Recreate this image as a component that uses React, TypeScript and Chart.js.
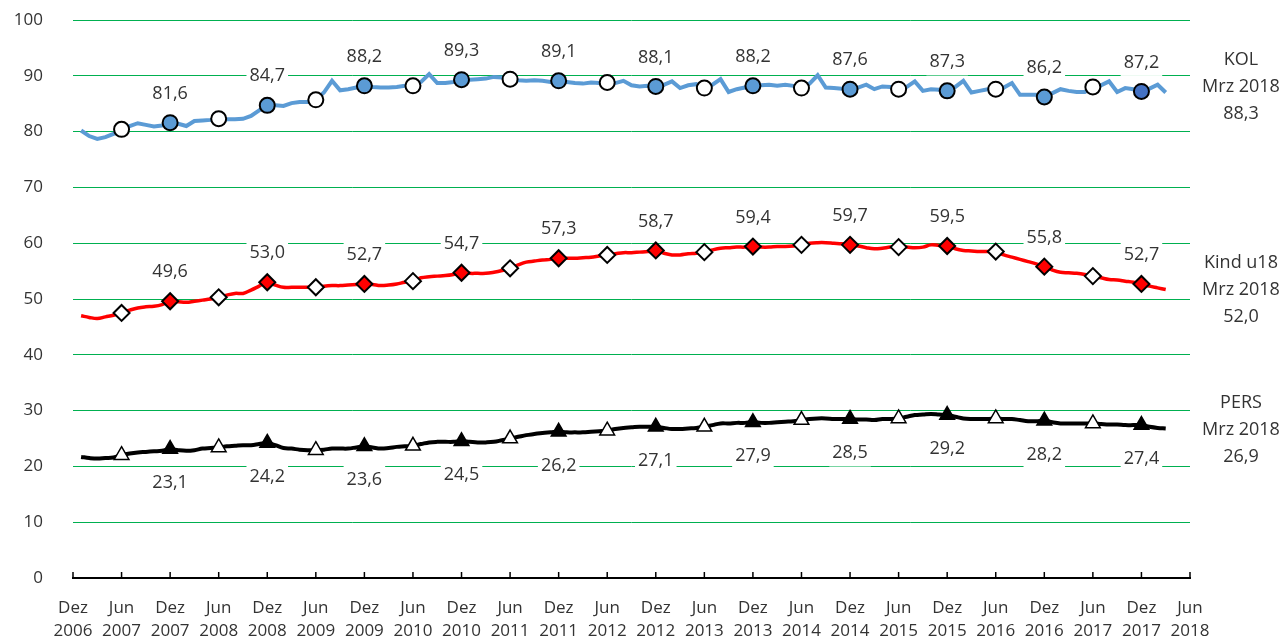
import React, { useEffect, useRef } from "react";
import { Chart, registerables } from "chart.js";

Chart.register(...registerables);

// Months counted from Dez 2006 (0). Series run from Jan 2007 (1) to Mrz 2018 (135).
const firstMonth = 1;

const kolValues = [
  80.2, 79.2, 78.7, 79.0, 79.6, 80.4, 81.0, 81.5, 81.2, 80.9, 81.1, 81.6,
  81.4, 81.0, 81.9, 82.0, 82.1, 82.3, 82.2, 82.2, 82.3, 82.8, 83.8, 84.7,
  84.7, 84.6, 85.1, 85.3, 85.3, 85.7, 87.0, 89.1, 87.4, 87.6, 87.9, 88.2,
  88.0, 87.9, 87.9, 88.0, 88.2, 88.2, 88.9, 90.3, 88.7, 88.7, 88.9, 89.3,
  89.3, 89.4, 89.5, 89.8, 89.7, 89.4, 89.2, 89.1, 89.2, 89.1, 88.9, 89.1,
  88.9, 88.7, 88.6, 88.8, 88.7, 88.8, 88.7, 89.1, 88.3, 88.1, 88.2, 88.1,
  88.4, 89.0, 87.8, 88.3, 88.5, 87.8, 88.4, 89.4, 87.1, 87.6, 87.9, 88.2,
  88.3, 88.4, 88.2, 88.4, 88.2, 87.8, 88.6, 90.1, 87.9, 87.8, 87.7, 87.6,
  87.9, 88.4, 87.6, 88.1, 88.0, 87.6, 88.0, 89.0, 87.3, 87.6, 87.5, 87.3,
  88.0, 89.1, 87.0, 87.3, 87.6, 87.6, 87.9, 88.7, 86.6, 86.6, 86.6, 86.2,
  86.9, 87.6, 87.3, 87.1, 87.1, 88.0, 88.3, 89.0, 87.1, 87.8, 87.6, 87.2,
  87.7, 88.4, 87.0,
];

const kindValues = [
  47.0, 46.7, 46.5, 46.8, 47.1, 47.5, 48.0, 48.4, 48.6, 48.7, 49.0, 49.6,
  49.5, 49.4, 49.6, 49.8, 50.0, 50.3, 50.7, 51.0, 51.0, 51.6, 52.3, 53.0,
  52.5, 52.1, 52.1, 52.1, 52.1, 52.1, 52.3, 52.4, 52.4, 52.5, 52.6, 52.7,
  52.6, 52.4, 52.5, 52.7, 53.0, 53.2, 53.8, 54.0, 54.1, 54.2, 54.4, 54.7,
  54.6, 54.6, 54.6, 54.8, 55.1, 55.5, 56.1, 56.6, 56.8, 57.0, 57.1, 57.3,
  57.3, 57.3, 57.4, 57.5, 57.7, 57.9, 58.1, 58.3, 58.3, 58.4, 58.5, 58.7,
  58.2, 57.9, 57.9, 58.1, 58.2, 58.4, 58.8, 59.1, 59.2, 59.3, 59.3, 59.4,
  59.3, 59.3, 59.4, 59.4, 59.5, 59.7, 60.0, 60.1, 60.1, 60.0, 59.9, 59.7,
  59.5, 59.2, 59.0, 59.1, 59.3, 59.3, 59.3, 59.2, 59.3, 59.7, 59.6, 59.5,
  59.0, 58.7, 58.6, 58.5, 58.5, 58.5, 57.9, 57.5, 57.1, 56.7, 56.3, 55.8,
  55.2, 54.8, 54.7, 54.6, 54.4, 54.1, 53.8, 53.5, 53.4, 53.2, 53.0, 52.7,
  52.3, 52.0, 51.7,
];

const persValues = [
  21.7, 21.5, 21.4, 21.5, 21.6, 22.0, 22.3, 22.5, 22.6, 22.7, 22.8, 23.1,
  22.9, 22.8, 22.9, 23.2, 23.3, 23.4, 23.6, 23.7, 23.8, 23.8, 24.0, 24.2,
  23.8, 23.3, 23.2, 23.0, 22.9, 22.9, 23.0, 23.2, 23.2, 23.2, 23.4, 23.6,
  23.4, 23.2, 23.3, 23.5, 23.6, 23.7, 24.0, 24.3, 24.4, 24.4, 24.4, 24.5,
  24.4, 24.3, 24.3, 24.4, 24.7, 25.0, 25.3, 25.6, 25.8, 26.0, 26.1, 26.2,
  26.1, 26.1, 26.1, 26.2, 26.3, 26.4, 26.7, 26.9, 27.0, 27.1, 27.1, 27.1,
  26.9, 26.7, 26.7, 26.8, 26.9, 27.1, 27.4, 27.7, 27.7, 27.8, 27.8, 27.9,
  27.8, 27.8, 27.9, 28.0, 28.1, 28.3, 28.5, 28.6, 28.6, 28.5, 28.5, 28.5,
  28.4, 28.4, 28.3, 28.5, 28.5, 28.6, 28.9, 29.2, 29.3, 29.4, 29.3, 29.2,
  28.9, 28.6, 28.5, 28.5, 28.5, 28.6, 28.5, 28.5, 28.3, 28.1, 28.1, 28.2,
  27.9, 27.7, 27.7, 27.7, 27.7, 27.7, 27.6, 27.5, 27.5, 27.4, 27.4, 27.4,
  27.1, 26.9, 26.8,
];

const xTickLabels = [
  ["Dez", "2006"], ["Jun", "2007"], ["Dez", "2007"], ["Jun", "2008"],
  ["Dez", "2008"], ["Jun", "2009"], ["Dez", "2009"], ["Jun", "2010"],
  ["Dez", "2010"], ["Jun", "2011"], ["Dez", "2011"], ["Jun", "2012"],
  ["Dez", "2012"], ["Jun", "2013"], ["Dez", "2013"], ["Jun", "2014"],
  ["Dez", "2014"], ["Jun", "2015"], ["Dez", "2015"], ["Jun", "2016"],
  ["Dez", "2016"], ["Jun", "2017"], ["Dez", "2017"], ["Jun", "2018"],
];

const seriesNames = ["KOL", "Kind u18", "PERS"];
const endPeriod = "Mrz 2018";
const endValues = [88.3, 52.0, 26.9];

const FONT = '"Open Sans", "Noto Sans", sans-serif';
const TEXT = "#333333";
const FS = 18;

const fmt = (v: number) => v.toFixed(1).replace(".", ",");
const toPoints = (vals: number[]) =>
  vals.map((v, i) => ({ x: firstMonth + i, y: v }));

const isMarker = (ctx: any) => ctx.raw && ctx.raw.x % 6 === 0;
const isDez = (ctx: any) => ctx.raw && ctx.raw.x % 12 === 0;

const labelPlugin = {
  id: "dezLabels",
  afterDatasetsDraw(chart: any) {
    const ctx = chart.ctx;
    ctx.save();
    ctx.font = `${FS}px ${FONT}`;
    ctx.textAlign = "center";
    ctx.textBaseline = "middle";
    chart.data.datasets.forEach((ds: any, di: number) => {
      const meta = chart.getDatasetMeta(di);
      ds.data.forEach((pt: any, i: number) => {
        if (pt.x % 12 !== 0) return;
        const el = meta.data[i];
        const txt = fmt(pt.y);
        const y = el.y + ds.labelOffset;
        const w = ctx.measureText(txt).width + 6;
        ctx.fillStyle = "#ffffff";
        ctx.fillRect(el.x - w / 2, y - 14.5, w, 29);
        ctx.fillStyle = TEXT;
        ctx.fillText(txt, el.x, y + 1);
      });
    });
    ctx.restore();
  },
  afterDraw(chart: any) {
    const ctx = chart.ctx;
    const xs = chart.scales.x;
    const ys = chart.scales.y;
    const area = chart.chartArea;
    ctx.save();
    // inside tick marks on the category axis
    ctx.strokeStyle = "#000";
    ctx.lineWidth = 1.5;
    xs.ticks.forEach((t: any) => {
      const x = xs.getPixelForValue(t.value);
      ctx.beginPath();
      ctx.moveTo(x, area.bottom);
      ctx.lineTo(x, area.bottom - 6);
      ctx.stroke();
    });
    // end-of-series captions on the right
    ctx.font = `${FS}px ${FONT}`;
    ctx.fillStyle = TEXT;
    ctx.textAlign = "center";
    ctx.textBaseline = "middle";
    const cx = area.right + 51;
    seriesNames.forEach((name, i) => {
      const ym = ys.getPixelForValue(endValues[i]) + 2;
      ctx.fillText(name, cx, ym - 27);
      ctx.fillText(endPeriod, cx, ym);
      ctx.fillText(fmt(endValues[i]), cx, ym + 27);
    });
    ctx.restore();
  },
};

export default function App() {
  const ref = useRef<HTMLCanvasElement | null>(null);

  useEffect(() => {
    if (!ref.current) return;
    const chart = new Chart(ref.current, {
      type: "line",
      data: {
        datasets: [
          {
            label: "KOL",
            data: toPoints(kolValues),
            borderColor: "#5B9BD5",
            borderWidth: 4,
            tension: 0,
            pointStyle: "circle",
            pointRadius: (c: any) => (isMarker(c) ? 7.5 : 0),
            pointBorderWidth: 2,
            pointBorderColor: "#000",
            pointBackgroundColor: (c: any) =>
              isDez(c) ? (c.raw.x === 132 ? "#4472C4" : "#5B9BD5") : "#ffffff",
            labelOffset: -30,
          } as any,
          {
            label: "Kind u18",
            data: toPoints(kindValues),
            borderColor: "#FF0000",
            borderWidth: 3.5,
            tension: 0.4,
            pointStyle: "rectRot",
            pointRadius: (c: any) => (isMarker(c) ? 8 : 0),
            pointBorderWidth: 2,
            pointBorderColor: "#000",
            pointBackgroundColor: (c: any) => (isDez(c) ? "#FF0000" : "#ffffff"),
            labelOffset: -30,
          } as any,
          {
            label: "PERS",
            data: toPoints(persValues),
            borderColor: "#000000",
            borderWidth: 4,
            tension: 0.4,
            pointStyle: "triangle",
            pointRadius: (c: any) => (isMarker(c) ? 8.5 : 0),
            pointBorderWidth: 1.5,
            pointBorderColor: "#000",
            pointBackgroundColor: (c: any) => (isDez(c) ? "#000000" : "#ffffff"),
            labelOffset: 33,
          } as any,
        ],
      },
      options: {
        responsive: false,
        animation: false,
        events: [],
        devicePixelRatio: 1,
        layout: { autoPadding: false, padding: { top: 20, right: 95, left: 0, bottom: 0 } },
        plugins: {
          legend: { display: false },
          tooltip: { enabled: false },
        },
        scales: {
          x: {
            type: "linear",
            min: 0,
            max: 138,
            grid: { display: false, drawTicks: false },
            border: { display: true, color: "#000", width: 2 },
            afterFit: (s: any) => {
              s.height = 62;
              s.paddingLeft = 0;
              s.paddingRight = 0;
            },
            ticks: {
              stepSize: 6,
              autoSkip: false,
              maxRotation: 0,
              padding: 19,
              color: TEXT,
              font: { family: FONT, size: 17, lineHeight: 1.35 },
              callback: (v: any) => xTickLabels[Math.round(Number(v) / 6)],
            },
          },
          y: {
            min: 0,
            max: 100,
            grid: {
              color: (c: any) => (c.tick && c.tick.value === 0 ? "rgba(0,0,0,0)" : "#00B050"),
              lineWidth: 1,
              drawTicks: false,
            },
            border: { display: false },
            afterFit: (s: any) => {
              s.width = 73;
              s.paddingTop = 0;
              s.paddingBottom = 0;
            },
            ticks: {
              stepSize: 10,
              padding: 30,
              color: TEXT,
              font: { family: FONT, size: 17 },
            },
          },
        },
      },
      plugins: [labelPlugin],
    });
    return () => chart.destroy();
  }, []);

  return (
    <div style={{ position: "fixed", left: 0, top: 0, width: 1285, height: 640, background: "#fff" }}>
      <canvas ref={ref} width={1285} height={640} style={{ width: 1285, height: 640 }} />
    </div>
  );
}
